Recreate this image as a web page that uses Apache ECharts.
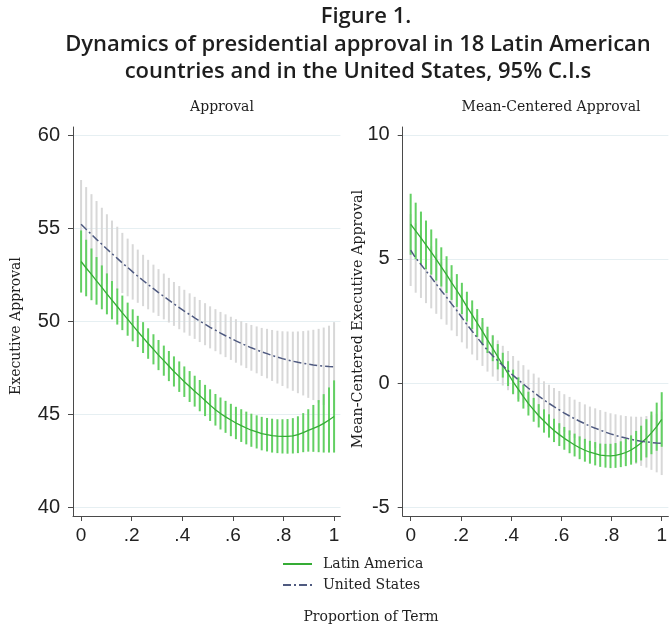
<!DOCTYPE html>
<html>
<head>
<meta charset="utf-8">
<script src="https://cdn.jsdelivr.net/npm/echarts@6/dist/echarts.min.js"></script>
<style>html,body{margin:0;padding:0;background:#fff}#c{width:670px;height:626px}</style>
</head>
<body>
<div id="c"></div>
<script>
// Proportion of term (x positions of estimates)
const termProp = [0, 0.020, 0.041, 0.061, 0.082, 0.102, 0.122, 0.143, 0.163, 0.184,
  0.204, 0.224, 0.245, 0.265, 0.286, 0.306, 0.327, 0.347, 0.367, 0.388,
  0.408, 0.429, 0.449, 0.469, 0.490, 0.510, 0.531, 0.551, 0.571, 0.592,
  0.612, 0.633, 0.653, 0.673, 0.694, 0.714, 0.735, 0.755, 0.776, 0.796,
  0.816, 0.837, 0.857, 0.878, 0.898, 0.918, 0.939, 0.959, 0.980, 1];

// Panel 1: Approval
const laApproval = [53.20, 52.85, 52.51, 52.16, 51.81, 51.46, 51.12, 50.78, 50.44, 50.10,
  49.77, 49.44, 49.11, 48.79, 48.48, 48.17, 47.87, 47.58, 47.29, 47.01,
  46.74, 46.48, 46.23, 45.99, 45.73, 45.48, 45.23, 45.03, 44.85, 44.68,
  44.52, 44.38, 44.25, 44.13, 44.04, 43.95, 43.89, 43.84, 43.81, 43.80,
  43.80, 43.83, 43.89, 44.00, 44.12, 44.23, 44.35, 44.50, 44.68, 44.87];
const laApprovalCI = [1.67, 1.52, 1.39, 1.28, 1.18, 1.10, 1.03, 0.97, 0.93, 0.89,
  0.86, 0.84, 0.83, 0.82, 0.81, 0.81, 0.81, 0.81, 0.81, 0.82,
  0.82, 0.83, 0.83, 0.84, 0.84, 0.85, 0.85, 0.86, 0.86, 0.87,
  0.87, 0.88, 0.88, 0.89, 0.89, 0.90, 0.90, 0.91, 0.91, 0.92,
  0.93, 0.95, 0.99, 1.05, 1.14, 1.26, 1.40, 1.57, 1.75, 1.94];
const usApproval = [55.20, 54.93, 54.66, 54.39, 54.13, 53.87, 53.62, 53.37, 53.12, 52.88,
  52.64, 52.41, 52.18, 51.96, 51.74, 51.53, 51.32, 51.12, 50.92, 50.72,
  50.53, 50.35, 50.17, 50.00, 49.83, 49.66, 49.51, 49.35, 49.21, 49.07,
  48.93, 48.80, 48.68, 48.56, 48.45, 48.34, 48.25, 48.15, 48.06, 47.98,
  47.91, 47.84, 47.78, 47.73, 47.68, 47.64, 47.60, 47.57, 47.55, 47.54];
const usApprovalCI = [2.38, 2.27, 2.16, 2.06, 1.96, 1.87, 1.78, 1.70, 1.62, 1.55,
  1.49, 1.43, 1.38, 1.33, 1.29, 1.26, 1.23, 1.20, 1.18, 1.16,
  1.15, 1.14, 1.13, 1.13, 1.13, 1.13, 1.13, 1.14, 1.15, 1.16,
  1.17, 1.19, 1.21, 1.23, 1.26, 1.29, 1.33, 1.37, 1.42, 1.47,
  1.53, 1.59, 1.66, 1.73, 1.81, 1.89, 1.98, 2.08, 2.20, 2.40];

// Panel 2: Mean-centered approval
const laCentered = [6.40, 6.13, 5.85, 5.57, 5.28, 4.98, 4.68, 4.37, 4.05, 3.73,
  3.41, 3.08, 2.75, 2.42, 2.08, 1.74, 1.40, 1.06, 0.72, 0.38,
  0.05, -0.26, -0.55, -0.83, -1.08, -1.32, -1.53, -1.73, -1.91, -2.08,
  -2.23, -2.37, -2.50, -2.61, -2.71, -2.79, -2.85, -2.91, -2.93, -2.94,
  -2.92, -2.87, -2.80, -2.70, -2.57, -2.42, -2.23, -2.01, -1.76, -1.47];
const laCenteredCI = [1.23, 1.14, 1.06, 0.98, 0.91, 0.85, 0.79, 0.74, 0.70, 0.66,
  0.63, 0.60, 0.58, 0.56, 0.54, 0.53, 0.52, 0.51, 0.50, 0.50,
  0.49, 0.49, 0.48, 0.48, 0.48, 0.47, 0.47, 0.47, 0.47, 0.46,
  0.46, 0.46, 0.46, 0.46, 0.46, 0.46, 0.47, 0.47, 0.48, 0.49,
  0.50, 0.52, 0.55, 0.59, 0.64, 0.70, 0.77, 0.86, 0.97, 1.10];
const usCentered = [5.36, 5.04, 4.78, 4.52, 4.26, 3.99, 3.72, 3.46, 3.19, 2.92,
  2.64, 2.36, 2.09, 1.83, 1.57, 1.32, 1.10, 0.90, 0.70, 0.50,
  0.31, 0.13, -0.04, -0.21, -0.37, -0.53, -0.68, -0.82, -0.95, -1.08,
  -1.21, -1.33, -1.44, -1.54, -1.64, -1.74, -1.82, -1.90, -1.98, -2.05,
  -2.11, -2.17, -2.22, -2.27, -2.31, -2.35, -2.37, -2.40, -2.42, -2.43];
const usCenteredCI = [1.45, 1.40, 1.35, 1.30, 1.25, 1.20, 1.15, 1.11, 1.07, 1.03,
  1.00, 0.97, 0.94, 0.91, 0.88, 0.86, 0.84, 0.82, 0.80, 0.79,
  0.78, 0.77, 0.76, 0.75, 0.75, 0.75, 0.75, 0.75, 0.75, 0.76,
  0.76, 0.77, 0.77, 0.78, 0.78, 0.79, 0.80, 0.81, 0.82, 0.83,
  0.85, 0.87, 0.89, 0.92, 0.95, 0.99, 1.04, 1.10, 1.18, 1.28];

// Tick labels
const xTicks = [0, 0.2, 0.4, 0.6, 0.8, 1];
const xTickLabels = ['0', '.2', '.4', '.6', '.8', '1'];
const yTicksApproval = [40, 45, 50, 55, 60];
const yTicksCentered = [-5, 0, 5, 10];

const seriesNames = ['Latin America', 'United States'];
const panelTitles = ['Approval', 'Mean-Centered Approval'];
const yTitles = ['Executive Approval', 'Mean-Centered Executive Approval'];

const LA_BAR = '#63d063', LA_LINE = '#35ac35', US_BAR = '#d8d8d8', US_LINE = '#4f5a80';
const AX = '#4a4a4a';
const TICKFONT = 'Liberation Sans';
const SERIF = 'DejaVu Serif';

function ciData(mean, half) {
  return termProp.map((x, i) => [x, mean[i] - half[i], mean[i] + half[i]]);
}
function lineData(mean) {
  return termProp.map((x, i) => [x, mean[i]]);
}
function ciSeries(name, mean, half, color, gi, z) {
  return {
    type: 'custom', name: name, xAxisIndex: gi, yAxisIndex: gi, z: z,
    silent: true,
    encode: { x: 0, y: [1, 2] },
    data: ciData(mean, half),
    renderItem: function (params, api) {
      const p1 = api.coord([api.value(0), api.value(1)]);
      const p2 = api.coord([api.value(0), api.value(2)]);
      return { type: 'line', shape: { x1: p1[0], y1: p1[1], x2: p2[0], y2: p2[1] },
        style: { stroke: color, lineWidth: 2 } };
    }
  };
}
function lineSeries(name, mean, color, dashed, gi, z) {
  return {
    type: 'line', name: name, xAxisIndex: gi, yAxisIndex: gi, z: z,
    data: lineData(mean), symbol: 'none', showSymbol: false, smooth: false,
    lineStyle: { color: color, width: dashed ? 1.5 : 1.3, type: dashed ? [8, 3, 2, 3] : 'solid' },
    itemStyle: { color: color }
  };
}
function xAxis(gi, min, max) {
  return {
    type: 'value', gridIndex: gi, min: min, max: max,
    axisLine: { show: true, onZero: false, lineStyle: { color: AX, width: 1 } },
    axisTick: { show: true, length: 5, customValues: xTicks, lineStyle: { color: AX } },
    axisLabel: { customValues: xTicks, margin: 10, fontSize: 19, fontFamily: TICKFONT, color: '#222',
      formatter: v => { const k = xTicks.findIndex(t => Math.abs(t - v) < 1e-6); return k >= 0 ? xTickLabels[k] : ''; } },
    splitLine: { show: false }
  };
}
function yAxis(gi, min, max, ticks) {
  return {
    type: 'value', gridIndex: gi, min: min, max: max,
    axisLine: { show: true, onZero: false, lineStyle: { color: AX, width: 1 } },
    axisTick: { show: true, length: 5, customValues: ticks, lineStyle: { color: AX } },
    axisLabel: { customValues: ticks, margin: 13, fontSize: 20, fontFamily: TICKFONT, color: '#222' },
    splitLine: { show: true, lineStyle: { color: '#e6eff2', width: 1 } }
  };
}
function txt(text, x, y, size, family, opts) {
  return Object.assign({ type: 'text', x: x, y: y, silent: true,
    style: Object.assign({ text: text, align: 'center', verticalAlign: 'middle', fontSize: size,
      fontFamily: family, fill: '#1e1e1e' }, (opts && opts.style) || {}) }, (opts && opts.el) || {});
}

const chart = echarts.init(document.getElementById('c'), null, { renderer: 'canvas', width: 670, height: 626 });
chart.setOption({
  animation: false,
  backgroundColor: '#ffffff',
  grid: [
    { left: 73, top: 127, width: 267.4, height: 389 },
    { left: 402.7, top: 127, width: 267.3, height: 389 }
  ],
  xAxis: [xAxis(0, -0.032, 1.025), xAxis(1, -0.0317, 1.0265)],
  yAxis: [yAxis(0, 39.52, 60.43, yTicksApproval), yAxis(1, -5.36, 10.32, yTicksCentered)],
  legend: {
    data: seriesNames, orient: 'vertical', left: 277, top: 552, itemWidth: 29, itemHeight: 12, itemGap: 7,
    selectedMode: false,
    itemStyle: { opacity: 0 },
    textStyle: { fontFamily: SERIF, fontSize: 14, color: '#222', padding: [0, 0, 0, 6] }
  },
  series: [
    ciSeries('US CI 1', usApproval, usApprovalCI, US_BAR, 0, 1),
    ciSeries('LA CI 1', laApproval, laApprovalCI, LA_BAR, 0, 2),
    lineSeries(seriesNames[0], laApproval, LA_LINE, false, 0, 3),
    lineSeries(seriesNames[1], usApproval, US_LINE, true, 0, 4),
    ciSeries('US CI 2', usCentered, usCenteredCI, US_BAR, 1, 1),
    ciSeries('LA CI 2', laCentered, laCenteredCI, LA_BAR, 1, 2),
    lineSeries(seriesNames[0], laCentered, LA_LINE, false, 1, 3),
    lineSeries(seriesNames[1], usCentered, US_LINE, true, 1, 4)
  ],
  graphic: [
    txt('Figure 1.', 366, 17, 22, 'Open Sans', { style: { fontWeight: 600 } }),
    txt('Dynamics of presidential approval in 18 Latin American', 358, 45, 22, 'Open Sans', { style: { fontWeight: 600 } }),
    txt('countries and in the United States, 95% C.I.s', 358, 72, 22, 'Open Sans', { style: { fontWeight: 600 } }),
    txt(panelTitles[0], 222, 107, 14, SERIF),
    txt(panelTitles[1], 551, 107, 14, SERIF),
    txt(yTitles[0], 16, 326, 14, SERIF, { el: { rotation: Math.PI / 2 } }),
    txt(yTitles[1], 358, 319, 14.3, SERIF, { el: { rotation: Math.PI / 2 } }),
    txt('Proportion of Term', 371, 617, 14, SERIF)
  ]
});
</script>
</body>
</html>
